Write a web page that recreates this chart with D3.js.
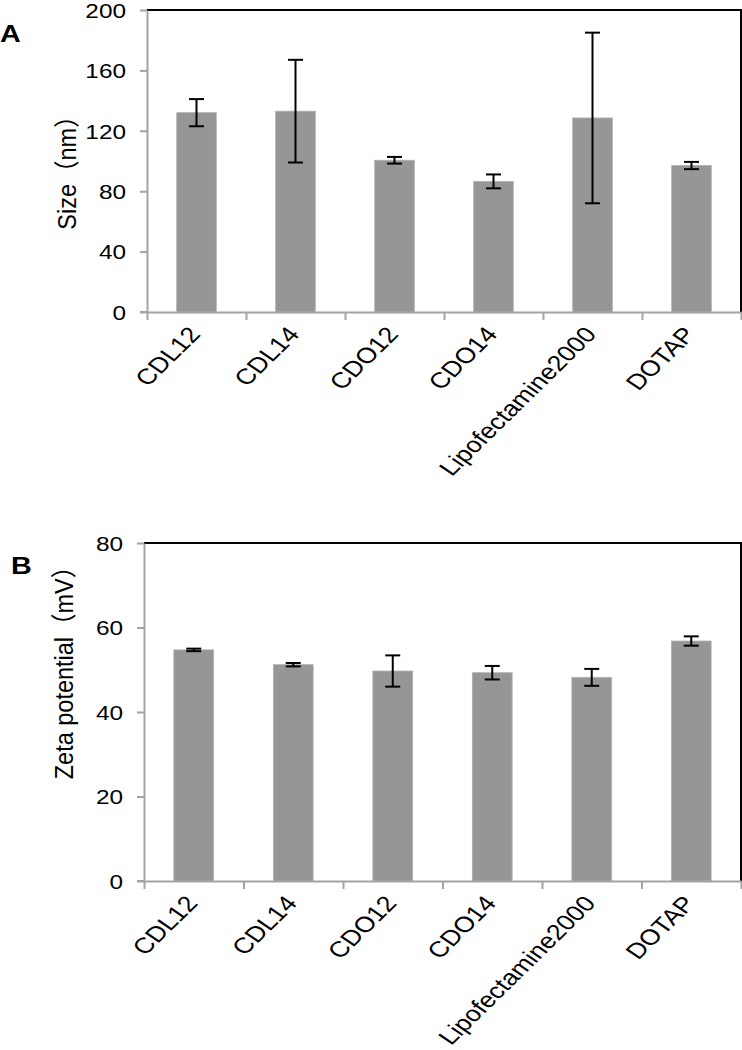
<!DOCTYPE html>
<html><head><meta charset="utf-8">
<script src="https://cdn.jsdelivr.net/npm/d3@7"></script>
<style>
html,body{margin:0;padding:0;background:#fff;}
svg text{font-family:"Liberation Sans",Arial,"Noto Sans CJK SC",sans-serif;fill:#000;}
</style></head>
<body>
<svg id="chart" width="742" height="1050"></svg>
<script>
const categories = ["CDL12","CDL14","CDO12","CDO14","Lipofectamine2000","DOTAP"];
const sizeValues = [132, 133, 100.5, 86.5, 128.5, 97];
const sizeErrors = [9, 34, 2.2, 4.6, 56.5, 2.4];
const zetaValues = [54.7, 51.2, 49.7, 49.3, 48.2, 56.8];
const zetaErrors = [0.3, 0.4, 3.7, 1.6, 2.0, 1.1];
const sizeTicks = [0, 40, 80, 120, 160, 200];
const zetaTicks = [0, 20, 40, 60, 80];

const svg = d3.select("#chart");
const AXIS_GRAY = "#a3a3a3";
const BAR_FILL = "#969696";

function panel(opt) {
  const {left, right, top, bottom, yMax, ticks, values, errors, letter, letterPos, title, titlePos} = opt;
  const g = svg.append("g");
  const x = d3.scaleBand().domain(categories).range([left, right]).padding(0);
  const xb = d3.scaleLinear().domain([0, categories.length]).range([left, right]);
  const y = d3.scaleLinear().domain([0, yMax]).range([bottom, top]);
  const bw = x.bandwidth() * 0.4;

  // frame top & right (black)
  g.append("line").attr("x1", left).attr("x2", right).attr("y1", top).attr("y2", top)
    .attr("stroke", "#000").attr("stroke-width", 2);
  g.append("line").attr("x1", right).attr("x2", right).attr("y1", top - 1).attr("y2", bottom)
    .attr("stroke", "#000").attr("stroke-width", 2);

  // bars
  g.selectAll("rect.bar").data(values).join("rect")
    .attr("x", (d, i) => x(categories[i]) + x.bandwidth() / 2 - bw / 2)
    .attr("y", d => y(d))
    .attr("width", bw)
    .attr("height", d => y(0) - y(d))
    .attr("fill", BAR_FILL)
    .attr("stroke", "#b0b0b0").attr("stroke-width", 0.8);

  // error bars
  const capW = 15;
  const eg = g.append("g").attr("stroke", "#000").attr("stroke-width", 2);
  values.forEach((v, i) => {
    const cx = x(categories[i]) + x.bandwidth() / 2;
    const e = errors[i];
    eg.append("line").attr("x1", cx).attr("x2", cx).attr("y1", y(v + e)).attr("y2", y(v - e));
    eg.append("line").attr("x1", cx - capW / 2).attr("x2", cx + capW / 2).attr("y1", y(v + e)).attr("y2", y(v + e));
    eg.append("line").attr("x1", cx - capW / 2).attr("x2", cx + capW / 2).attr("y1", y(v - e)).attr("y2", y(v - e));
  });

  // left axis
  const ya = g.append("g").attr("transform", `translate(${left},0)`)
    .call(d3.axisLeft(y).tickValues(ticks).tickSizeInner(7).tickSizeOuter(0).tickFormat(""));
  ya.select(".domain").attr("stroke", AXIS_GRAY).attr("stroke-width", 2);
  ya.selectAll(".tick line").attr("stroke", AXIS_GRAY).attr("stroke-width", 2);

  // tick labels (stretched horizontally like the reference)
  g.selectAll("text.ytl").data(ticks).join("text")
    .attr("class", "ytl")
    .attr("transform", d => `translate(${left - 21},${y(d)}) scale(1.25,1)`)
    .attr("text-anchor", "end").attr("dy", "0.4em")
    .attr("font-size", 19.5)
    .text(d => d);

  // bottom axis
  const xa = g.append("g").attr("transform", `translate(0,${bottom})`)
    .call(d3.axisBottom(xb).tickValues(d3.range(categories.length + 1)).tickSizeInner(8).tickSizeOuter(0).tickFormat(""));
  xa.select(".domain").attr("stroke", AXIS_GRAY).attr("stroke-width", 2);
  xa.selectAll(".tick line").attr("stroke", AXIS_GRAY).attr("stroke-width", 2);
  g.append("line").attr("x1", left - 7).attr("x2", left).attr("y1", bottom).attr("y2", bottom)
    .attr("stroke", AXIS_GRAY).attr("stroke-width", 2);

  // category labels
  g.selectAll("text.xl").data(categories).join("text")
    .attr("class", "xl")
    .attr("transform", d => `translate(${x(d) + x.bandwidth() / 2 + 5},${bottom + 23}) scale(1.22,1) rotate(-50)`)
    .attr("text-anchor", "end")
    .attr("font-size", 22)
    .text(d => d);

  // y title
  g.append("text")
    .attr("transform", `translate(${titlePos[0]},${titlePos[1]}) scale(1.1,1) rotate(-90)`)
    .attr("text-anchor", "middle").attr("font-size", 23.5)
    .text(title);

  // panel letter
  g.append("text")
    .attr("transform", `translate(${letterPos[0]},${letterPos[1]}) scale(1.25,1)`)
    .attr("font-size", 23).attr("font-weight", "bold")
    .text(letter);
}

panel({left: 147, right: 741, top: 10, bottom: 312, yMax: 200, ticks: sizeTicks,
  values: sizeValues, errors: sizeErrors, letter: "A", letterPos: [0, 42],
  title: "Size（nm）", titlePos: [76, 167]});

panel({left: 144, right: 741, top: 543, bottom: 881, yMax: 80, ticks: zetaTicks,
  values: zetaValues, errors: zetaErrors, letter: "B", letterPos: [11, 574],
  title: "Zeta potential（mV）", titlePos: [73, 667]});
</script>
</body></html>
